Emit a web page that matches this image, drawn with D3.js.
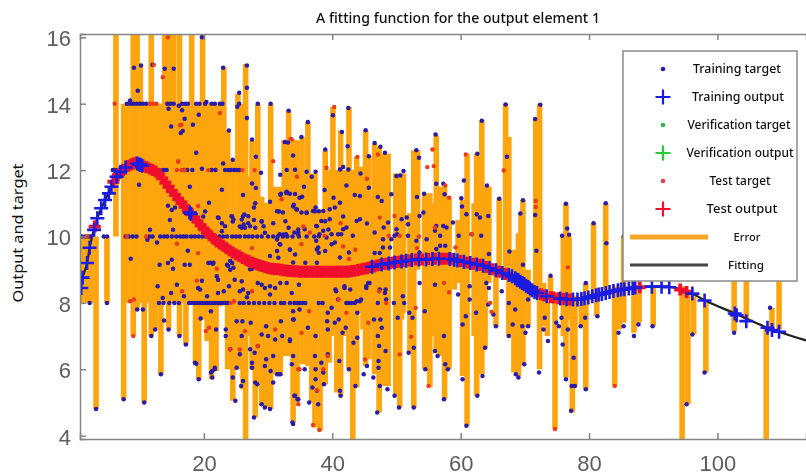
<!DOCTYPE html>
<html><head><meta charset="utf-8">
<style>html,body{margin:0;padding:0;background:#fff}svg{display:block}</style>
<script src="https://cdn.jsdelivr.net/npm/d3@7/dist/d3.min.js"></script></head>
<body><svg id="c" width="806" height="476"></svg>
<script>
const chartTitle="A fitting function for the output element 1";
const yAxisLabel="Output and target";
const xTicks=[20,40,60,80,100];
const yTicks=[4,6,8,10,12,14,16];
const legendLabels=["Training target","Training output","Verification target","Verification output","Test target","Test output","Error","Fitting"];
const fitCurve=[[.7,8.4],[1.1,8.76],[1.8,9.2],[2.2,9.66],[3.3,10.5],[4.9,11.2],[6.1,11.72],[7.7,12.07],[9.6,12.22],[10,12.17],[12.7,11.95],[15.2,11.32],[17.8,10.72],[19.4,10.36],[22,9.85],[24.5,9.52],[27.2,9.24],[29.8,9.06],[35,8.94],[39.6,8.94],[42.3,8.94],[47.4,9.15],[52.6,9.3],[58,9.33],[63,9.15],[68.2,8.79],[71.3,8.34],[74.4,8.16],[77.8,8.1],[82.8,8.31],[88.4,8.49],[92.1,8.49],[95.7,8.31],[98.4,8.04],[102.4,7.71],[107.7,7.26],[113.8,6.87]];
// [x, upper end, lower end] of each visible error stroke
const errorBars=[[1,10,8],[1.8,10,8],[2.4,10,8],[3.2,10,4.8],[4.9,10,8],[6.3,16.3,10],[7.5,14,5.1],[8.2,14,8],[9,16.3,7],[9.6,16.3,7.8],[10.1,15.2,9],[10.7,14,5],[11.4,14,8.5],[11.8,16.3,7],[12.4,14,7.2],[13.1,14,8],[13.3,14,5.85],[13.9,16.3,8],[14.5,16.3,7.2],[15.3,16.3,8],[16.2,16.3,7],[17.2,14,6.75],[18.1,16.3,8],[18.7,14,6.2],[19.2,14,5.7],[19.8,16.1,7.5],[20.5,14,6.85],[21.2,14,5.7],[21.9,14,5.95],[22.5,14,7.9],[23.1,15.1,8],[23.7,13.2,6],[24.5,12.3,5.05],[25.3,14.3,6],[25.8,14,6],[26.1,12,5.4],[26.5,15.2,3.8],[27.5,12.9,6],[28,12.2,4.55],[28.4,14,5.5],[29,11.2,4.9],[29.8,11,4.85],[30.4,14,4.8],[31.2,11.5,5.85],[31.9,11.5,5.8],[32.5,12.9,6.4],[33.2,13.8,6.4],[33.9,12.9,4.4],[34.5,12.9,5],[35.3,13,6.15],[35.9,11.9,6.2],[36.2,13.45,6.1],[36.8,11.9,5],[37.3,11.9,4.25],[38.1,10.7,4.15],[38.9,12.6,5.55],[39.5,12,6.2],[40.1,13.9,7],[40.7,12,5.3],[41.3,13.2,5.2],[42,12,7.1],[42.6,13.9,6],[43.2,12,3.8],[43.8,12.4,5.45],[44.4,12.1,7.7],[45.2,13.2,6.1],[45.7,12.4,6.3],[46.6,12.8,5.85],[47.3,12.7,4.7],[48,12.5,5.5],[48.7,12.5,5.5],[49.9,11.9,5.2],[50.5,11.9,4.85],[51.1,11.9,7.7],[52.1,10.7,6.5],[52.7,12.6,4.85],[53.3,12.6,9],[54.4,11.3,6],[55.2,11.3,5.45],[56.2,13.05,6.5],[56.8,11.5,6.4],[57.5,11.5,5.1],[58.2,11.15,6],[59,9.3,8.4],[59.6,10.5,8.6],[60.3,11.1,5.8],[61,12.5,4.3],[62.5,12.5,5.2],[63.3,13.5,5.85],[63.8,11.5,6.6],[64.4,11.5,8.6],[65.5,9,7.3],[66,11.15,8.9],[67,14,8.7],[67.5,13,7],[68.3,9.6,5.9],[69,10.1,5.8],[69.4,10.7,7],[69.7,11.1,6.15],[70.5,9,7.3],[71.7,13.55,8.3],[72.3,14,6],[72.9,8.6,7.3],[73.5,8.3,7],[74,8.8,8.1],[74.7,8.3,4.2],[76,10,7],[76.4,11,5.75],[76.9,10,7.5],[77.4,8.2,4.7],[77.8,8.2,5.5],[78.8,8.2,7.3],[79.5,8.6,5.4],[80.7,10.4,8.3],[81.2,8.4,7.6],[82.6,11,8.4],[84,8.5,5.5],[84.7,8.5,7.2],[85.4,10,7.4],[87,8.5,7.1],[87.8,8.5,7.4],[90,8.5,7.3],[94.5,8.5,3.8],[95.4,8.3,4.95],[96.3,8.2,7.05],[98.2,8,5.9],[102.6,9.5,7.15],[104.5,9.5,7.5],[107.6,7.3,3.8],[108.5,7.85,7.2],[109.6,9.5,7.2]];
// further strokes inside the solid orange body of the cloud
const errorBody=[[7.9,14,8.2],[8.6,14,8],[10.4,14,8],[11.1,14,8],[12.8,14,8],[14.9,14,8],[15.7,14,8],[16.7,14,8],[17.65,14,8],[20.2,14,8],[20.9,14,8],[21.5,14,8],[22.2,14,8],[24,12,7],[24.9,12,7],[27,11.8,7],[28.7,11,7],[29.4,11,7],[30.1,11,7],[30.8,11,7],[31.5,11.2,7],[32.2,11.2,7],[32.9,11.2,7],[33.6,11.2,7],[34.2,11.2,7],[34.9,11.2,7],[35.6,11.2,7],[36.5,11.2,7],[37,11.2,7],[37.7,10.8,7],[38.5,10.8,7],[39.2,11.2,7],[39.8,11.2,7],[40.4,11.2,7],[41,11.2,7],[41.7,11.2,7],[42.3,11.2,7.2],[43.5,11.2,7.2],[44.1,11.2,7.7],[44.8,11.2,7.2],[45.4,11.2,7.2],[46,11.2,7.2],[46.9,11.2,7.2],[47.6,11.2,7.2],[48.3,11.2,7.2],[50.2,11.3,7.5],[50.8,11.3,7.5],[54.9,11,7],[55.7,11,7],[57.1,11.3,7],[57.9,11,7],[62.1,11,7],[62.9,11,7],[63.6,11,7]];
const trainRow14=[8,8.5,9,9.5,10,10.5,11,14.3,14.8,15.3,16.6,17.1,17.5,18.8,19.3,20.2,21.2,21.7,22.5,22.9];
const trainRow12=[5.8,6.3,13.1,13.7,14.2,16.9,17.4,18.2,21.2,21.8,23.3,23.8,24.2,24.7,25.1,25.5];
const trainRow10=[1,1.5,2,2.4,4.4,4.9,7.8,8.3,8.9,9.5,11.5,12,13.2,13.8,14.3,15,15.7,16.3,16.8,17.3,18,18.6,19.2,19.8,20.4,21.2,21.8,22.4,23,23.6,24.4,25,25.6,26.4,27,27.6,28.3,29,30,30.8,31.5,32.3,33,33.8,34.8,36,37.2];
const trainRow8=[2.2,4.9,13,13.7,14.6,15.4,16.1,17.7,18.1,18.5,18.9,19.3,19.7,20.1,20.5,20.9,21.3,21.7,22.1,22.5,22.9,23.3,23.7,25.6,26.2,27,27.8,28.6,29.4,30.2,31,32,32.5,33.4,34.1,34.6,35,35.4,35.8,37.9,38.5];
const trainTargets=[[8.5,14.1],[20.4,14.05],[9.1,15.08],[10.2,15.15],[9.7,14.39],[12,15.17],[13.9,15.05],[15.3,15.05],[19.7,16],[23,15.08],[23.9,13.19],[26.7,15.15],[26.7,14.48],[25.5,14.33],[25.2,13.91],[25.5,14],[28.4,14],[30.4,14],[33.2,13.79],[26.7,13.57],[27.5,12.92],[28.1,12.4],[28.9,11.92],[14.5,13.85],[16.1,13.94],[16.6,13.8],[17,13.55],[19.2,13.67],[14.9,13.31],[18.3,13.37],[16.4,13.12],[16.7,13.18],[23,12.2],[24.5,12.31],[18.8,12.52],[19.7,12.04],[17.8,11.5],[22.8,11.41],[9.9,11.56],[26.1,11.25],[27.5,11.6],[28.1,11.46],[28,11],[27.8,10.87],[30.3,11.05],[31.9,11.86],[32.6,12.85],[33.1,12.83],[33.9,12.44],[32.9,12],[34.2,12.01],[32,11.29],[32.9,11.35],[33.4,11.29],[33.9,10.9],[31.7,10.75],[32.3,10.72],[34.5,10.81],[20.8,11.02],[20.2,10.75],[19.9,10.6],[22.2,10.57],[22.8,10.4],[24.4,10.6],[24.5,10.45],[26.1,10.6],[25.6,10.3],[26.9,10.4],[27.8,10.5],[29,10.45],[30.8,10.4],[14.7,10.5],[15,10.8],[14.4,10.93],[15.5,10.87],[15.2,10.2],[11.6,10.2],
[8.6,9.33],[12.7,9.82],[11.2,9.9],[13.1,9.15],[14.4,9.2],[15.2,9.03],[15,9.3],[17.5,9.57],[17,9.15],[17.8,9.15],[19.7,8.67],[20.7,9.2],[21.4,9.18],[24.4,9.2],[23.6,9.15],[24.1,9],[22,8.8],[22.2,8.7],[24.8,8.7],[25.9,8.65],[26.1,8.4],[25.6,8.35],[23.9,8.5],[23.1,8.35],[22.2,8.3],[19.1,8.45],[19.4,8.4],[20.5,8.2],[12.8,8.5],[13.6,8.15],[14.9,8.3],[15.8,8.55],[16.9,8.2],[27.5,9.03],[28.4,8.6],[29,8.55],[29.5,8.45],[30.3,8.5],[31.1,8.45],[31.9,8.6],[32.9,8.6],[33.7,8.3],[26.9,8.3],[26.7,8.17],[30.3,8.25],
[10.5,7.8],[9.6,7.8],[13.8,7.47],[12.4,7.2],[11.8,7],[14.5,7.2],[16.2,7],[17.2,6.75],[18.8,6.17],[19.5,7.53],[21.1,7.75],[21.9,7.2],[23.4,7.2],[23.4,7],[25.1,7.45],[26,7.45],[27.3,7.4],[29.7,7.3],[32,7.45],[29,7.05],[30,7],[31.1,6.9],[32.2,7],[33.4,6.85],[33.9,7.75],[34,7.5],[25.9,7],[27.2,6.6],[27.9,6.5],[28.4,6.7],[24.1,6.6],[25.6,6.45],[29.7,6.3],[30.8,6.4],[27.5,6.2],[27.5,6.05],[33.9,6.4],[33.7,6.15],[29.5,6.1],[25.1,6.05],[21.7,6.05],[21.1,5.9],[21.3,5.75],[24.5,5.75],[30.4,5.95],[31.6,5.85],[24.9,5.05],[25.8,5.5],[26.1,5.65],[27.8,4.55],[28,5.6],[28.3,5.55],[29,4.95],[29.5,4.85],[30.3,4.8],[30.8,5.6],[31.4,5.85],[31.9,5.85],[33.9,4.35],[34.2,5.2],[34.7,5.1],[7.5,5.1],[10.7,5],[3.2,4.8],[13.3,5.85],[18.6,6.2],[19.2,5.7],[21.3,5.95],[21.7,6],
[34.8,8.55],[33.9,7.5],[34.9,7.8],[39.9,7.85],[39.3,7.7],[40.6,8.35],[40.9,8.1],[39.2,7.45],[40.4,7.4],[41,7.5],[39.3,7.2],[36.2,7.25],[37.4,7],[41.9,8.45],[42.8,8.4],[42.5,8],[43.5,8],[44.3,8.05],[43.9,7.7],[47.1,8],[48.4,8.1],[45.3,8.45],[45.6,8.6],[48.2,8.3],[46.5,7.5],[47.5,7.5],[47.7,7.25],[42.1,7.25],[41.6,7.1],[47.1,7],[47.3,6.7],[48.3,6.55],[43.3,6.8],[43.9,6.95],[33.4,6.9],[39.3,6.45],[37.3,6.4],[38.3,6.2],[41.1,6.25],[37.4,6],[35.7,6],[38.6,5.9],[42.6,6],[45.4,6.1],[44.9,5.85],[47.2,6.25],[47.2,6.05],[46.4,5.75],[47.4,5.5],[48.6,5.4],[43.6,5.5],[41.2,5.35],[41.3,5.2],[38.7,5.55],[37.4,5.7],[36.9,5.45],[37.6,5.35],[34.1,5.2],[34.6,5.1],[36.4,5],[37.8,4.95],[33.8,4.4],[47,4.7],[49.7,5.2],[50.4,4.85],[52.7,4.85],[51.9,6.5],[52.7,6.65],[49.6,8],[50.2,7.55],[51,8.2],[51.2,8],[52,7.7],[52.5,7.55],[53.6,8.6],[54.4,7.75],[54.5,6],[56,8.55],[56,6.55],[56.4,6.4],[57.4,7],[57.6,6.15],[58,6],[57.4,5.1],[59.6,8.25],[61.4,8.5],[61.4,8.1],[60.8,7.6],[60.3,7.35],[62.4,7.7],[60.3,5.7],[60.9,4.3],[62.6,5.2],[63.4,5.8],[63.8,6.65],[64,8.6],[64.4,8.45],[64.3,7.95],[65.1,7.65],[65.5,7.3],[66.4,8.35],[67.5,8],[68.5,7.8],[68.1,7.35],[67.5,7],[68.6,5.85],[69,5.75],[69.9,6.15],[69.6,7.3],[70.5,7.3],[70.1,7.1],[70.5,8.1],[72.2,5.9],[73.1,7.55],[72.9,7.2],[73.6,6.85],
[75.9,6.75],[76.4,5.7],[77.2,4.75],[77.6,6.35],[77.3,5.5],[77.8,5.5],[79.5,5.4],[78.7,7.3],[79.4,7.55],[76.7,7.2],[74.9,7.4],[75.3,7.3],[75.7,7.55],[79.5,8.6],[81.3,7.6],[84.6,7.1],[85.4,7.3],[87,7],[87.7,7.35],[89.9,7.3],[95.2,4.95],[96.1,7.05],[98,5.9],[102.6,7.1],[108.2,7.85],
[35.2,13],[36.2,13.45],[36,11.95],[36.8,11.8],[37.4,11.95],[35.6,11.5],[32.8,11.32],[34.9,11.17],[35.3,11.2],[34.4,10.82],[35.2,10.72],[36,10.72],[37,10.77],[37.4,10.87],[40.1,13.65],[42.5,13.87],[41.5,13.15],[42.4,12.72],[38.9,12.62],[45.2,13.2],[46.6,12.82],[47.5,12.7],[48.2,12.52],[45.7,12.42],[41.2,12.02],[41.7,12.09],[42.5,12.02],[44.4,11.9],[42.2,11.54],[45.7,11.47],[38.8,11.4],[43.5,11.25],[44.3,11.22],[40.2,11.17],[41.2,11.02],[47.1,11.19],[47.7,11.07],[49.2,11.27],[50,11.82],[50.6,11.84],[51.1,11.97],[53.1,12.6],[53.5,12.37],[56.1,13.07],[53.2,11.19],[54.3,11.29],[56.2,11.59],[57.3,11.59],[57.5,11.27],[60.1,11.15],[60.2,10.9],[60.5,11.69],[62.6,12.49],[63.3,13.49],[64.1,11.54],[66,11.14],[67,13.98],[67.2,12.4],[69.7,11.09],[69.3,10.69],[72.4,13.97],[71.6,13.54],[71.6,10.65],[76.4,10.99],[76.6,10.24],[75.8,10.02],[76.9,10.05],[74,8.82],[71.8,9.57],[69.7,9.15],[67.6,9.55],[80.7,10.4],[82.6,11],[82.7,9.8],[85.4,10],
[38.6,10.77],[39.6,10.82],[40.4,10.87],[41.7,10.6],[39.6,10.52],[38.3,10.47],[43.8,10.47],[44.3,10.52],[45.4,10.39],[42.2,10.27],[41.7,10.22],[37.5,10.32],[38.6,10.17],[39.9,10.07],[40.9,10.07],[41.4,10.07],[43.2,10.02],[46.6,10.12],[48,10.27],[49.2,9.92],[50,10.22],[51.6,10.57],[50.8,10.52],[50.1,10.07],[49.7,10.02],[51.8,10.02],[48.7,10.42],[47.9,9.92],[49,9.67],[47.9,9.67],[46.6,9.5],[47.4,9.5],[39.1,9.97],[39.9,9.77],[40.4,9.82],[37.5,9.87],[37.8,9.67],[41.2,9.37],[42.6,9.52],[33.4,9.6],[33.9,9.22],[31.8,9.77],[38,10.07],[34.1,10.12],[34.7,10.12],[32.8,10.07],[31.8,10.07],[35.7,10.22],[54.2,10.72],[53.6,10.62],[56.2,10.32],[56,10.17],[56.8,10.02],[57.3,10.32],[57.8,10.27],[58.8,10.42],[59.7,10.02],[60.9,10.67],[62.5,10.67],[63,10.57],[63.2,10.02],[64.3,10.62],[61.7,10.07],[57.6,9.72],[56.8,9.72],[56.2,9.62],[51.8,10.37],[54.7,9.92],[53.6,9.52],[64.4,9.47],[53.1,9.87],
[40.5,8.4],[41.9,8.5],[45.3,8.5],[45.8,8.6],[47.4,8.4],[48.3,8.4],[42.2,8],[43,8],[43.8,8.05],[44.5,8.1],
[31.9,11.26],[33,11.31],[34.2,11.28],[34,10.96],[36,10.71],[37.3,10.76],[37.9,10.76],[31.4,10.76],[26.3,10.66],[26.9,10.61],[22.3,10.56],[24.3,10.61],[24.6,10.51],[23.3,10.31],[22.8,10.16],[25.9,10.51],[26.2,10.36],[25.9,10.26],[26.4,10.26],[27.2,10.31],[28,10.26],[29,10.46],[29.3,10.31],[29.5,10.11],[32.7,10.46],[33.2,10.26],[34.7,10.21],[34.7,10.06],[32.4,10.06],[31.4,9.91],[31.9,9.76],[37.6,10.31],[38.9,10.46],[39.4,10.21],[37.9,10.01],[31.4,9.56],[33.4,9.61],[31.6,9.36],[34.2,9.46],[30.3,9.41],[37.6,9.61],[37.9,9.51],[38.9,9.56],[23.8,9.61],[21,9.21],[21.5,9.21],[24.1,9.26],[23.8,9.11],[24.6,9.06],[27.2,9.01],[35.8,9.21],[37.6,9.21]];
const testTargets=[[22.5,13.72],[16.5,13.37],[16,12.27],[33.7,12.92],[30.8,12.27],[34.5,11.8],[32.1,11.12],[27.9,12],[20.7,12],[16.5,12],[15.8,12],[19.1,10.92],[14.4,16],[13.6,14.8],[12.2,15.17],[6.1,14],[12.1,14],[11.6,14],[12.6,14],[16.3,13.35],[16,12.25],[9,7],[8.5,8.05],[9.1,8.1],[15.8,9.78],[16.6,8.35],[18.9,8.67],[19.1,9.5],[20.3,7.15],[20.8,7.25],[22,9.03],[27.5,9.65],[24.7,8.05],[24.2,8],[27.5,8.35],[26.4,7.15],[28.4,6.7],[31.1,7.2],[24.1,6.6],[25.6,6.6],[34.7,6],[40.3,13.9],[33.5,12.94],[39.1,12.07],[43.9,12.4],[47.1,12.47],[45.4,11.74],[55.6,12.62],[54.8,12.09],[55.8,12.12],[57.6,11.54],[58.2,11.17],[60.8,12.47],[66.7,11.99],[71.7,11.07],[71.7,10.89],[76.7,9.07],[47.4,10.57],[49.7,10.62],[41.3,10.4],[36.5,10.12],[35.5,10.3],[53.5,10],[53.2,9.65],[59.2,9.67],[35.2,9.77],[41.7,9.7],[43.6,9.6],[42.6,9.32],[61.7,10.07],[56,10.27],[48.8,10.02],[50.5,10.02],[38.8,10.02],[47.3,8.35],[45.6,7.4],[36.4,7.75],[35.2,7.1],[42.2,7.7],[52.3,6.98],[50.5,6.45],[45.1,6.3],[55,5.5],[53,7.85],[57.4,8.6],[58.2,8.32],[64.6,8],[64.8,7.73],[34.7,4.95],[37,4.32],[38,4.17],[37.6,5.37],[38.6,6],[34.9,6],[39.3,6.4],[41,8.1],[48.4,8],[74.7,4.2],[84,5.5],[8,10],[11,10],[17,12],[26,12],[1.8,10]];
const testOutputs=[[3,10.3],[5.9,11.65],[6.6,11.85],[7.4,12],[8.2,12.12],[8.6,12.16],[9,12.2],[9.5,12.22],[10,12.17],[10.5,12.13],[11,12.09],[11.5,12.05],[12,12],[12.5,11.96],[13,11.88],[13.5,11.75],[14,11.62],[14.5,11.5],[15,11.37],[15.5,11.25],[16,11.13],[16.5,11.02],[17,10.9],[17.5,10.79],[18,10.68],[18.5,10.57],[19,10.45],[19.5,10.34],[20,10.22],[20.5,10.12],[21,10.03],[21.5,9.93],[22,9.85],[22.5,9.78],[23,9.72],[23.5,9.65],[24,9.58],[24.5,9.52],[25,9.46],[25.5,9.41],[26,9.35],[26.5,9.3],[27,9.26],[27.5,9.22],[28,9.18],[28.5,9.14],[29,9.11],[29.5,9.08],[30,9.05],[30.5,9.03],[31,9.02],[31.5,9.01],[32,9],[32.5,8.98],[33,8.97],[33.5,8.96],[34,8.95],[34.5,8.95],[35,8.94],[35.5,8.94],[36,8.94],[36.5,8.94],[37,8.94],[37.5,8.94],[38,8.94],[38.5,8.94],[39,8.94],[39.5,8.94],[40,8.94],[40.5,8.94],[41,8.94],[41.5,8.94],[42,8.94],[42.5,8.94],[43,8.96],[43.5,8.97],[44,8.99],[44.5,9.01],[45,9.03],[45.5,9.05],[46,9.08],[46.5,9.1],[47,9.13],[47.5,9.15],[48,9.17],[48.5,9.18],[49,9.2],[49.5,9.22],[50,9.23],[50.5,9.25],[51,9.26],[52,9.28],[53,9.31],[54,9.31],[55,9.32],[56,9.33],[57,9.33],[57.5,9.33],[58,9.33],[58.5,9.32],[60,9.26],[61,9.22],[62,9.18],[63,9.15],[64,9.08],[65,9.01],[66,8.94],[67,8.87],[72.5,8.26],[73,8.22],[74,8.17],[74.5,8.16],[75.2,8.14],[76,8.12],[77,8.1],[87.9,8.47],[94.2,8.4],[95.2,8.33]];
const trainOutputs=[[.9,8.45],[1.1,8.76],[1.8,9.2],[2.2,9.66],[2.9,10.2],[3.4,10.55],[4,10.85],[4.6,11.1],[5.2,11.3],[5.6,11.5],[6.4,11.8],[7,11.95],[7.8,12.08],[9.6,12.2],[9.9,12.17],[10.1,12.16],[10.4,12.13],[17.8,10.72],[18,10.68],[46.2,9.09],[47.7,9.16],[48.8,9.19],[49.7,9.22],[50.8,9.25],[51.5,9.27],[52.4,9.29],[53.5,9.31],[54.6,9.31],[55.6,9.32],[56.6,9.33],[58.3,9.32],[59,9.3],[59.5,9.28],[60.5,9.24],[61.5,9.2],[62.5,9.16],[63.5,9.12],[64.5,9.05],[65.5,8.98],[66.5,8.9],[67.5,8.84],[68,8.8],[68.5,8.74],[68.8,8.7],[69,8.68],[69.3,8.64],[69.6,8.6],[69.9,8.57],[70.2,8.52],[70.5,8.48],[70.8,8.43],[71.1,8.38],[71.5,8.33],[71.9,8.3],[73.4,8.2],[75.5,8.13],[76.5,8.11],[77.5,8.1],[78.2,8.1],[78.8,8.12],[79.3,8.14],[79.9,8.16],[80.5,8.2],[81.1,8.23],[81.5,8.25],[82,8.27],[82.6,8.3],[83.2,8.33],[83.8,8.36],[84.5,8.38],[85,8.4],[85.5,8.41],[86.2,8.43],[86.8,8.45],[87.2,8.46],[89.8,8.49],[91.3,8.49],[92.5,8.47],[96.1,8.28],[98,8.07],[102.7,7.68],[103,7.63],[104.5,7.45],[107.8,7.25],[108.5,7.18],[109.6,7.13]];

const W=806,H=476,L=80,T=34,B=439;
const svg=d3.select("#c");
const x=d3.scaleLinear().domain([.7,113.8]).range([L,W]);
const y=d3.scaleLinear().domain([3.9,16.1]).range([B,T]);
const defs=svg.append("defs");
defs.append("clipPath").attr("id","plot").append("rect").attr("x",L).attr("y",T).attr("width",W-L).attr("height",B-T);
const soft=defs.append("filter").attr("id","soft").attr("x","-2%").attr("y","-2%").attr("width","104%").attr("height","104%");
soft.append("feGaussianBlur").attr("stdDeviation",0.6);
const plot=svg.append("g").attr("clip-path","url(#plot)").append("g").attr("filter","url(#soft)");
plot.append("rect").attr("x",L).attr("y",T).attr("width",W-L).attr("height",B-T).attr("fill","#fff");
const ORANGE="#fca50f",NAVY="#2a1aa6",BLUE="#1c1ce0",RED="#f0102e",TESTDOT="#e83a1c";
plot.selectAll("line.err").data(errorBars.concat(errorBody)).join("line").attr("class","err")
 .attr("x1",d=>x(d[0])).attr("x2",d=>x(d[0])).attr("y1",d=>y(d[1])).attr("y2",d=>y(d[2]))
 .attr("stroke",ORANGE).attr("stroke-width",5.6);
const line=d3.line().x(d=>x(d[0])).y(d=>y(d[1])).curve(d3.curveMonotoneX);
plot.append("path").datum(fitCurve).attr("d",line).attr("fill","none").attr("stroke","#222").attr("stroke-width",2.2);
const rows=[[trainRow14,14],[trainRow12,12],[trainRow10,10],[trainRow8,8]].flatMap(([xs,v])=>xs.map(k=>[k,v]));
const allTrain=trainTargets.concat(rows);
plot.selectAll("circle.tr").data(allTrain).join("circle").attr("class","tr").attr("cx",d=>x(d[0])).attr("cy",d=>y(d[1])).attr("r",2.25).attr("fill",NAVY);
plot.selectAll("circle.te").data(testTargets).join("circle").attr("class","te").attr("cx",d=>x(d[0])).attr("cy",d=>y(d[1])).attr("r",2.2).attr("fill",TESTDOT);
function crossPath(r){return `M${-r},0H${r}M0,${-r}V${r}`;}
function crosses(g,data,col,sw,r){g.selectAll("path.o").data(data).join("path").attr("class","o")
 .attr("transform",d=>`translate(${x(d[0])},${y(d[1])})`).attr("d",crossPath(r)).attr("fill","none").attr("stroke",col).attr("stroke-width",sw);}
crosses(plot.append("g"),testOutputs,RED,3.8,6);
crosses(plot.append("g"),trainOutputs,BLUE,2.6,7);

// axes
const GREY="#858585";
const ax=svg.append("g").attr("filter","url(#soft)");
const xa=d3.axisBottom(x).tickValues(xTicks).tickSize(-6).tickPadding(16).tickFormat(d3.format("d"));
const ya=d3.axisLeft(y).tickValues(yTicks).tickSize(-6).tickPadding(9).tickFormat(d3.format("d"));
const gx=ax.append("g").attr("transform",`translate(0,${B})`).call(xa);
const gy=ax.append("g").attr("transform",`translate(${L},0)`).call(ya);
const gt=ax.append("g").attr("transform",`translate(0,${T})`).call(d3.axisTop(x).tickValues(xTicks).tickSize(-6).tickFormat(""));
[gx,gy,gt].forEach(g=>{g.selectAll("path,line").attr("stroke",GREY).attr("stroke-width",1.5);
 g.selectAll("text").attr("fill","#5e5e5e").attr("font-family","'Liberation Sans',Arial,sans-serif").attr("font-size",22);});
gy.selectAll("text").attr("dy","0.38em");

svg.append("text").attr("x",458).attr("y",23).attr("text-anchor","middle").attr("font-family","'Noto Sans',sans-serif").attr("font-size",13.5).attr("font-weight",500).attr("fill","#111").attr("textLength",284).attr("lengthAdjust","spacingAndGlyphs").text(chartTitle);
svg.append("text").attr("transform","translate(23,233) rotate(-90)").attr("text-anchor","middle").attr("font-family","'Noto Sans',sans-serif").attr("font-size",15).attr("fill","#111").attr("textLength",139).attr("lengthAdjust","spacingAndGlyphs").text(yAxisLabel);

// legend
const leg=svg.append("g").attr("filter","url(#soft)");
leg.append("rect").attr("x",623).attr("y",51).attr("width",174).attr("height",230).attr("fill","#fff").attr("stroke","#8a8a8a").attr("stroke-width",1.5);
const ly=d3.scalePoint().domain(legendLabels).range([69,265]);
const textCentres=[737,738,739,740,740,742,747,746];
const textWidths=[88,92,103,107,61,71,27,36];
const marker=[{k:"dot",c:NAVY},{k:"plus",c:BLUE},{k:"dot",c:"#35b54a"},{k:"plus",c:"#22cc33"},{k:"dot",c:"#e8404a"},{k:"plus",c:RED},{k:"bar",c:"#f5a52b"},{k:"fit",c:"#444"}];
legendLabels.forEach((t,i)=>{
 const yy=ly(t),m=marker[i];
 if(m.k==="dot")leg.append("circle").attr("cx",663).attr("cy",yy).attr("r",2.3).attr("fill",m.c);
 if(m.k==="plus")leg.append("path").attr("transform",`translate(663,${yy})`).attr("d",crossPath(7.5)).attr("stroke",m.c).attr("stroke-width",2.2).attr("fill","none");
 if(m.k==="bar")leg.append("line").attr("x1",630).attr("x2",708).attr("y1",yy).attr("y2",yy).attr("stroke",m.c).attr("stroke-width",5);
 if(m.k==="fit")leg.append("line").attr("x1",630).attr("x2",708).attr("y1",yy).attr("y2",yy).attr("stroke",m.c).attr("stroke-width",3);
 svg.append("text").attr("x",textCentres[i]).attr("y",yy+4).attr("text-anchor","middle").attr("font-family","'Noto Sans',sans-serif").attr("font-size",i<6?12:10.5).attr("font-weight",500).attr("fill","#111").attr("textLength",textWidths[i]).attr("lengthAdjust","spacingAndGlyphs").text(t);
});
</script></body></html>
